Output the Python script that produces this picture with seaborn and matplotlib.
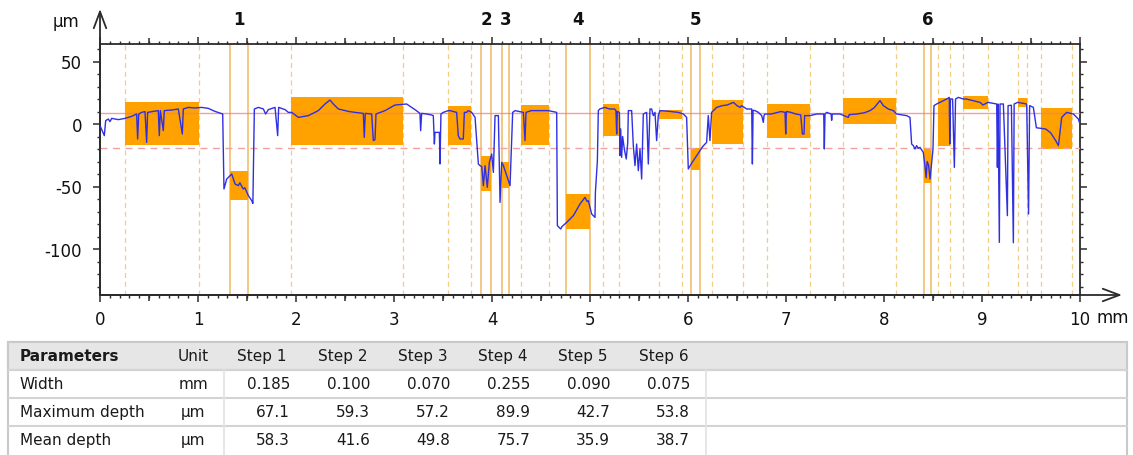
import matplotlib
matplotlib.use("Agg")
import numpy as np
import pandas as pd
import matplotlib.pyplot as plt
import matplotlib.transforms as mtrans
from matplotlib.patches import Rectangle
from matplotlib.ticker import MultipleLocator
import seaborn as sns

# ---------------- data ----------------
profile_x = [
    0.000, 0.044, 0.058, 0.085, 0.102, 0.119, 0.187, 0.255, 0.323, 0.374, 0.384, 0.395,
    0.425, 0.459, 0.476, 0.486, 0.544, 0.595, 0.605, 0.616, 0.646, 0.656, 0.731, 0.799,
    0.840, 0.850, 0.901, 0.969, 1.037, 1.105, 1.173, 1.224, 1.252, 1.265, 1.293, 1.344,
    1.378, 1.412, 1.427, 1.461, 1.478, 1.514, 1.548, 1.560, 1.575, 1.616, 1.667, 1.690,
    1.718, 1.786, 1.813, 1.823, 1.888, 1.922, 1.956, 2.024, 2.126, 2.228, 2.296, 2.347,
    2.381, 2.432, 2.534, 2.602, 2.687, 2.697, 2.707, 2.772, 2.789, 2.806, 2.816, 2.908,
    3.010, 3.129, 3.214, 3.265, 3.272, 3.282, 3.333, 3.384, 3.401, 3.412, 3.418, 3.463,
    3.469, 3.479, 3.503, 3.554, 3.571, 3.639, 3.656, 3.673, 3.707, 3.718, 3.741, 3.758,
    3.793, 3.827, 3.861, 3.878, 3.895, 3.912, 3.929, 3.952, 3.973, 3.997, 4.014, 4.031,
    4.065, 4.082, 4.099, 4.116, 4.150, 4.184, 4.211, 4.235, 4.320, 4.337, 4.347, 4.400,
    4.500, 4.575, 4.620, 4.660, 4.667, 4.701, 4.715, 4.762, 4.830, 4.898, 4.949, 4.970,
    4.983, 5.017, 5.051, 5.055, 5.075, 5.085, 5.100, 5.150, 5.200, 5.250, 5.265, 5.272,
    5.279, 5.300, 5.306, 5.313, 5.323, 5.333, 5.350, 5.370, 5.385, 5.391, 5.425, 5.442,
    5.459, 5.476, 5.493, 5.510, 5.527, 5.544, 5.578, 5.595, 5.612, 5.629, 5.646, 5.663,
    5.680, 5.697, 5.714, 5.800, 5.900, 5.952, 5.986, 6.003, 6.040, 6.100, 6.150, 6.190,
    6.207, 6.224, 6.241, 6.276, 6.293, 6.350, 6.400, 6.463, 6.500, 6.531, 6.548, 6.599,
    6.650, 6.657, 6.664, 6.684, 6.718, 6.752, 6.769, 6.776, 6.786, 6.850, 6.900, 6.950,
    6.990, 6.997, 7.004, 7.050, 7.100, 7.150, 7.167, 7.184, 7.190, 7.245, 7.313, 7.385,
    7.391, 7.398, 7.415, 7.460, 7.466, 7.472, 7.551, 7.636, 7.645, 7.721, 7.800, 7.857,
    7.900, 7.959, 7.993, 8.044, 8.095, 8.129, 8.231, 8.265, 8.282, 8.299, 8.316, 8.333,
    8.350, 8.367, 8.401, 8.420, 8.430, 8.440, 8.455, 8.470, 8.480, 8.500, 8.510, 8.537,
    8.640, 8.666, 8.671, 8.678, 8.700, 8.718, 8.730, 8.759, 8.809, 8.840, 8.980, 9.010,
    9.060, 9.150, 9.157, 9.164, 9.177, 9.184, 9.218, 9.259, 9.266, 9.300, 9.320, 9.328,
    9.364, 9.456, 9.475, 9.486, 9.524, 9.555, 9.650, 9.700, 9.750, 9.780, 9.813, 9.864,
    9.932, 9.983, 10.000,
]
profile_y = [
    -1.3, -9.3, 2.7, 4.0, 1.9, 4.5, 3.5, 4.5, 6.1, 8.0, -12.0, 8.0,
    9.3, 9.9, -14.7, 9.3, 10.1, 10.7, -9.3, 10.7, -5.3, 10.7, 11.2, 12.0,
    -8.0, 12.0, 13.3, 12.8, 13.3, 12.5, 10.1, 8.8, 8.0, -52.0, -44.0, -40.0,
    -48.0, -49.3, -47.0, -52.0, -51.0, -57.3, -61.3, -63.5, 12.0, 13.3, 12.0, 8.0,
    11.5, 13.3, -9.3, 13.3, 11.5, 9.3, 9.3, 5.3, 6.7, 10.7, 16.0, 19.2,
    16.0, 12.0, 10.1, 9.3, 8.5, -10.7, 8.5, 8.0, -13.3, -12.5, 8.0, 10.7,
    15.2, 16.0, 11.5, 8.5, -5.3, 8.5, 8.0, 7.2, 6.7, -16.0, -6.7, -6.7,
    -32.0, 8.0, 9.3, 10.7, 10.7, 9.3, -9.3, -12.0, -12.0, 9.3, 9.3, 10.7,
    9.3, 5.3, -32.0, -33.3, -34.0, -49.3, -33.3, -50.7, -30.7, -24.0, -38.7, 6.7,
    6.7, -62.7, -30.7, -33.3, -41.3, -49.3, 9.3, 10.7, 9.3, -13.3, 9.3, 10.7,
    10.7, 10.7, 10.0, 9.3, -81.3, -84.0, -82.0, -78.7, -73.3, -64.0, -58.7, -62.0,
    -61.3, -72.0, -74.7, -54.7, -30.0, 10.7, 12.0, 13.3, 12.0, 12.0, 10.7, -8.0,
    10.0, 9.3, -25.3, -4.0, -26.7, -10.0, -20.0, -28.0, -15.0, 10.7, 10.7, -17.3,
    -33.3, -16.0, -37.3, -20.0, -44.0, 8.0, 9.3, -32.0, 12.0, 12.0, 6.7, 9.3,
    -13.3, 6.7, 10.7, 10.2, 9.3, 8.0, 5.3, -36.0, -31.0, -24.0, -18.0, -14.7,
    6.7, -13.3, 9.3, 12.0, 13.3, 14.7, 15.2, 17.3, 14.7, 13.3, 14.7, 12.0,
    12.0, -32.0, 11.0, 10.7, 9.3, 6.7, 1.3, 7.0, 8.0, 8.0, 9.0, 10.0,
    9.3, -8.0, 10.0, 9.3, 8.0, 7.3, -8.0, -8.0, 6.7, 6.7, 8.0, 8.0,
    -20.0, 8.0, 9.3, 8.0, 3.0, 8.0, 8.0, 5.3, 7.5, 8.0, 9.0, 10.7,
    13.0, 18.7, 14.7, 12.0, 10.7, 8.0, 6.7, 5.3, -16.0, -17.3, -20.0, -17.3,
    -19.5, -18.7, -22.7, -35.0, -43.0, -30.0, -33.0, -44.0, -36.0, -20.0, 14.7, 16.0,
    20.0, 21.3, -16.0, 20.0, 20.0, -34.7, 20.0, 21.3, 20.0, 20.0, 17.3, 15.2,
    17.3, 16.0, -34.7, 16.0, -94.7, 16.0, 16.0, -73.3, 14.7, 15.0, -95.0, 16.0,
    17.3, 16.0, -72.0, 14.7, 13.3, -3.0, -4.0, -7.0, -13.0, -17.3, 5.3, 9.3,
    8.0, 4.0, 0.0,
]

# reference areas (orange boxes with dashed boundaries)
ref_left = [0.255, 1.946, 3.554, 4.296, 5.129, 5.707, 6.240, 6.809, 7.578, 8.554, 8.809, 9.364, 9.599]
ref_right = [1.013, 3.088, 3.786, 4.582, 5.300, 5.935, 6.558, 7.245, 8.122, 8.677, 9.061, 9.456, 9.915]
ref_top = [17.3, 21.9, 14.7, 15.5, 15.7, 11.5, 19.5, 16.3, 20.8, 20.5, 22.4, 20.8, 12.8]
ref_bottom = [-16.8, -16.5, -16.5, -16.8, -9.6, 4.0, -16.0, -10.9, 0.0, -17.3, 12.0, 13.3, -20.0]

# step areas (orange boxes with solid boundaries)
step_left = [1.327, 3.888, 4.102, 4.752, 6.030, 8.408]
step_right = [1.507, 3.990, 4.173, 5.000, 6.122, 8.480]
step_top = [-37.3, -25.3, -30.7, -56.0, -19.5, -19.2]
step_bottom = [-60.8, -53.3, -51.2, -84.0, -36.8, -47.5]

upper_level = 8.5
lower_level = -19.2

x_ticks = [0, 1, 2, 3, 4, 5, 6, 7, 8, 9, 10]
x_mid_ticks = [0.5, 1.5, 2.5, 3.5, 4.5, 5.5, 6.5, 7.5, 8.5, 9.5]
y_ticks = [-100, -50, 0, 50]

table_params = ["Width", "Maximum depth", "Mean depth"]
table_units = ["mm", "\u00b5m", "\u00b5m"]
step_names = ["Step 1", "Step 2", "Step 3", "Step 4", "Step 5", "Step 6"]
width_vals = [0.185, 0.100, 0.070, 0.255, 0.090, 0.075]
maxdepth_vals = [67.1, 59.3, 57.2, 89.9, 42.7, 53.8]
meandepth_vals = [58.3, 41.6, 49.8, 75.7, 35.9, 38.7]

# ---------------- style ----------------
sns.set_theme(style="white")
plt.rcParams['font.family'] = ['DejaVu Sans']
AX_COL = "#2b2b2b"

W, H = 1133, 456
fig = plt.figure(figsize=(W / 100, H / 100), dpi=100, facecolor="white")
L, R, T, B = 100, 1080, 45, 296
ax = fig.add_axes([L / W, 1 - B / H, (R - L) / W, (B - T) / H])
ax.set_facecolor("white")

# vertical boundaries
for xv in ref_left + ref_right:
    ax.axvline(xv, color="#F3CD86", lw=0.9, ls=(0, (4, 3)), zorder=1)
for xv in step_left + step_right:
    ax.axvline(xv, color="#F1C47C", lw=1.3, zorder=1)

# boxes
ref_df = pd.DataFrame({"left": ref_left, "right": ref_right, "top": ref_top, "bottom": ref_bottom})
step_df = pd.DataFrame({"left": step_left, "right": step_right, "top": step_top, "bottom": step_bottom})
for df in (ref_df, step_df):
    ax.bar(df["left"], df["top"] - df["bottom"], width=df["right"] - df["left"],
           bottom=df["bottom"], align="edge", color="#FFA200", linewidth=0, zorder=2)

# reference levels
ax.axhline(upper_level, color="#EE7F7F", lw=1.0, alpha=0.75, zorder=3)
ax.axhline(lower_level, color="#F0A2A2", lw=1.0, ls=(0, (5, 4)), zorder=3)

# profile
prof = pd.DataFrame({"x": profile_x, "y": profile_y})
sns.lineplot(data=prof, x="x", y="y", sort=False, estimator=None, color="#2F2FE3",
             lw=1.0, ax=ax, zorder=4, legend=False)

ax.set_xlim(0, 10)
ax.set_ylim(-136.8, 64)
ax.set_xlabel("")
ax.set_ylabel("")
ax.set_xticks(x_ticks)
ax.set_xticklabels([str(v) for v in x_ticks])
ax.set_yticks(y_ticks)
ax.set_yticklabels([str(v) for v in y_ticks])
ax.xaxis.set_minor_locator(MultipleLocator(0.1))
ax.yaxis.set_minor_locator(MultipleLocator(10))
ax.tick_params(which="both", direction="out", top=True, right=True, bottom=True, left=True,
               labeltop=False, labelright=False, color=AX_COL, labelcolor="#111111")
ax.tick_params(which="major", length=5, width=1.1, labelsize=12)
ax.tick_params(axis="x", which="major", pad=6)
ax.tick_params(axis="y", which="major", pad=8)
ax.tick_params(which="minor", length=2.5, width=1.0)
for s in ax.spines.values():
    s.set_color(AX_COL)
    s.set_linewidth(1.3)
    s.set_visible(True)

# medium ticks at half millimetres (top and bottom)
for side in ("top", "bottom"):
    sec = ax.secondary_xaxis(side)
    sec.set_xticks(x_mid_ticks)
    sec.tick_params(direction="out", length=4, width=1.1, color=AX_COL, labelsize=0,
                    labelbottom=False, labeltop=False)
    sec.spines[side].set_visible(False)
    sec.set_xticklabels([])

# axis arrows
arrow_kw = dict(arrowstyle="->,head_length=0.8,head_width=0.3", lw=1.3, color=AX_COL,
                shrinkA=0, shrinkB=0, mutation_scale=15)
ax.annotate("", xy=(0, 1 + (T - 10) / (B - T)), xytext=(0, 0), xycoords="axes fraction",
            arrowprops=arrow_kw, annotation_clip=False)
ax.annotate("", xy=(1 + (1122 - R) / (R - L), 0), xytext=(0, 0), xycoords="axes fraction",
            arrowprops=arrow_kw, annotation_clip=False)

ax.text(-0.035, 1 + (T - 22) / (B - T), "\u00b5m", transform=ax.transAxes, ha="center",
        va="center", fontsize=12, color="#111111")
ax.text(1 + (1097 - R) / (R - L), -(318 - B) / (B - T), "mm", transform=ax.transAxes,
        ha="left", va="center", fontsize=12, color="#111111")

# step numbers
blend = mtrans.blended_transform_factory(ax.transData, ax.transAxes)
for i, (l, r) in enumerate(zip(step_left, step_right)):
    ax.text((l + r) / 2, 1 + (T - 20) / (B - T), str(i + 1), transform=blend, ha="center",
            va="center", fontsize=12, fontweight="bold", color="#111111")

# ---------------- table ----------------
tx = fig.add_axes([0, 0, 1, 1], zorder=5)
tx.set_xlim(0, W)
tx.set_ylim(H, 0)
tx.axis("off")
tx.patch.set_visible(False)
x0, x1, y0, rh = 8, 1127, 343, 28
tx.add_patch(Rectangle((x0, y0), x1 - x0, 130, fc="white", ec="#C9C9C9", lw=1.5))
tx.add_patch(Rectangle((x0, y0), x1 - x0, rh, fc="#E6E6E6", ec="#C9C9C9", lw=1.5))
for k in range(1, 4):
    tx.plot([x0, x1], [y0 + k * rh, y0 + k * rh], color="#D3D3D3", lw=1.5)
for xs in (224, 706):
    tx.plot([xs, xs], [y0 + rh, H], color="#E2E2E2", lw=1.2)

fs = 11
tcol = "#1a1a1a"
tx.text(20, y0 + rh / 2, "Parameters", ha="left", va="center", fontsize=fs,
        fontweight="bold", color=tcol)
tx.text(193, y0 + rh / 2, "Unit", ha="center", va="center", fontsize=fs, color=tcol)
for j, name in enumerate(step_names):
    tx.text(262 + 80.3 * j, y0 + rh / 2, name, ha="center", va="center", fontsize=fs, color=tcol)
rows = [
    [f"{v:.3f}" for v in width_vals],
    [f"{v:.1f}" for v in maxdepth_vals],
    [f"{v:.1f}" for v in meandepth_vals],
]
for i, (p, u, vals) in enumerate(zip(table_params, table_units, rows)):
    yc = y0 + rh * (i + 1) + rh / 2
    tx.text(20, yc, p, ha="left", va="center", fontsize=fs, color=tcol)
    tx.text(193, yc, u, ha="center", va="center", fontsize=fs, color=tcol)
    for j, v in enumerate(vals):
        tx.text(290 + 80 * j, yc, v, ha="right", va="center", fontsize=fs, color=tcol)

fig.savefig("out.png", dpi=100, facecolor="white")
